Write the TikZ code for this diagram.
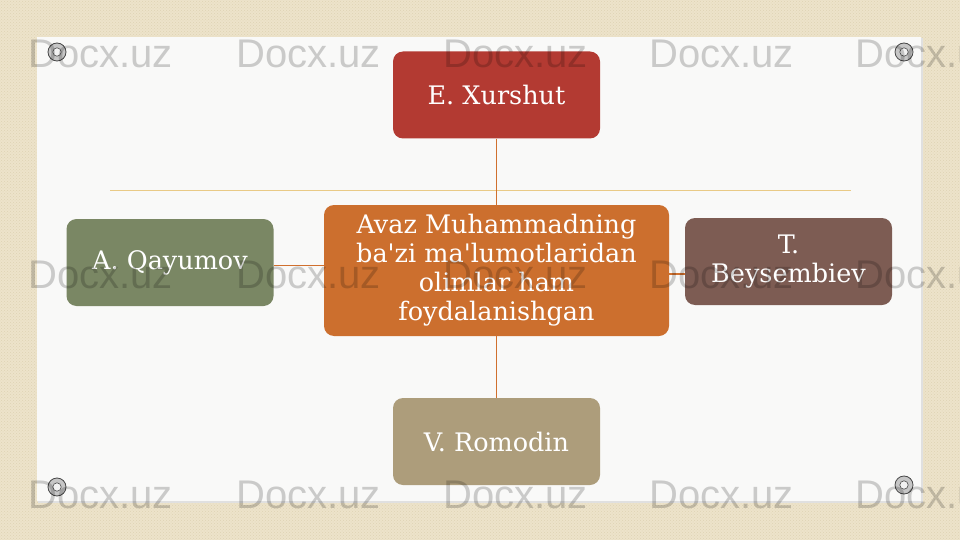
\documentclass[tikz,border=0pt]{standalone}
\usepackage{fontspec}
\setmainfont{DejaVu Serif}
\newfontfamily\wmfont{Liberation Sans}
\usetikzlibrary{patterns}
\definecolor{bgbeige}{HTML}{EDE3CA}
\definecolor{bgdots}{HTML}{DED2B4}
\definecolor{cardcol}{HTML}{F9F9F8}
\definecolor{redbox}{HTML}{B33A32}
\definecolor{orangebox}{HTML}{CC6F2E}
\definecolor{brownbox}{HTML}{7D5C53}
\definecolor{greenbox}{HTML}{7A8764}
\definecolor{tanbox}{HTML}{AD9D7B}
\definecolor{linkcol}{HTML}{D0702E}
\definecolor{goldline}{HTML}{E9CA86}
\tikzset{
  box/.style={rounded corners=10pt, inner sep=0pt, text=white, align=center,
    font=\fontsize{25.5}{29}\selectfont, minimum width=207pt, minimum height=87pt},
  link/.style={draw=linkcol, line width=1.3pt},
  wmark/.style={font=\wmfont\fontsize{40}{40}\selectfont, text=black, text opacity=0.19, anchor=base west, inner sep=0pt},
  pin/.style={fill=gray!45, draw=gray!55!black, line width=0.8pt},
  pinhole/.style={fill=white!90!gray, draw=gray!60!black, line width=0.6pt}
}
\begin{document}
\begin{tikzpicture}[x=1pt,y=-1pt]
\useasboundingbox (0,0) rectangle (960,540);
% background
\fill[bgbeige] (0,0) rectangle (960,540);
\fill[pattern=crosshatch dots, pattern color=bgdots] (0,0) rectangle (960,540);
% card
\fill[black!12] (38,38.5) rectangle (922.5,502.5);
\fill[cardcol] (37,37) rectangle (921,501);
% gold line
\draw[goldline, line width=1.5pt] (110,190.5) -- (851,190.5);
% nodes
\node[box, fill=redbox] (E) at (496.5,95) {E. Xurshut};
\node[box, fill=orangebox, minimum width=345pt, minimum height=131pt] (C) at (496.5,270.5)
  {Avaz Muhammadning\\ba\textquotesingle zi ma\textquotesingle lumotlaridan\\olimlar ham\\foydalanishgan};
\node[box, fill=brownbox] (T) at (788.5,261.5) {T.\\Beysembiev};
\node[box, fill=greenbox] (A) at (170,262.5) {A. Qayumov};
\node[box, fill=tanbox] (V) at (496.5,441.5) {V. Romodin};
% connectors
\draw[link] (E.south) -- (C.north);
\draw[link] (C.south) -- (V.north);
\draw[link] ([yshift=-3pt]A.east) -- ([yshift=-3pt]A.east -| C.west);
\draw[link] ([yshift=-3.5pt]C.east) -- ([yshift=-3.5pt]C.east -| T.west);
% pins
\foreach \p in {(57,52),(904,52),(57,487),(904,485)} {
  \fill[pin] \p circle (9pt);
  \fill[pinhole] \p circle (4.2pt);
}
% watermarks
\foreach \yy in {68,288,508} {
  \foreach \xx in {28,236,443,649,855} {
    \node[wmark] at (\xx,\yy) {Docx.uz};
  }
}
\end{tikzpicture}
\end{document}
